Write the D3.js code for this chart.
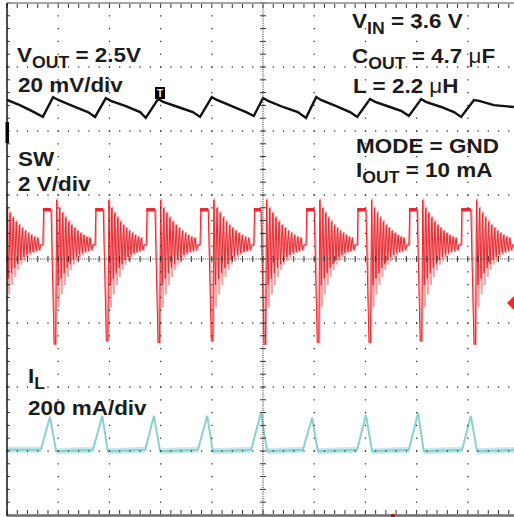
<!DOCTYPE html>
<html>
<head>
<meta charset="utf-8">
<script src="https://cdn.jsdelivr.net/npm/d3@7"></script>
<style>
  body { margin: 0; background: #fff; }
  .lbl { font-family: "Liberation Sans", Arial, sans-serif; font-weight: bold; font-size: 21px; fill: #1c1c1c; }
</style>
</head>
<body>
<script>
const width = 514;
const height = 517;

// SW, 2 V/div : start / end of each high-side pulse (divisions), dip minimum (V)
const swOn  = [-0.33, 0.70, 1.72, 2.72, 3.77, 4.82, 5.84, 6.84, 7.85, 8.87, 9.92];
const swOff = [-0.17, 0.86, 1.88, 2.89, 3.93, 4.96, 6.00, 7.01, 8.01, 9.06, 10.10];
const swDip = [-0.50, -0.60, -0.50, -0.55, -0.50, -0.60, -0.55, -0.55, -0.50, -0.60, -0.50];
const swHigh = 3.6;   // V_IN
const swRest = 2.5;   // V_OUT, where the ringing settles
// ringing after each pulse, one entry per ring cycle (V above / below swRest)
const ringTop      = [1.40, 1.15, 1.00, 0.85, 0.72, 0.62, 0.53, 0.44, 0.37, 0.31, 0.25, 0.22];
const ringBot      = [1.25, 1.05, 0.88, 0.72, 0.60, 0.47, 0.38, 0.31, 0.25, 0.22, 0.19, 0.16];
const ringTopFaint = [1.45, 1.20, 1.05, 0.90, 0.78, 0.66, 0.56, 0.47, 0.40, 0.33, 0.28, 0.24];
const ringBotFaint = [1.95, 1.55, 1.25, 1.00, 0.78, 0.62, 0.50, 0.40, 0.31, 0.25, 0.22, 0.19];

// VOUT, 20 mV/div (AC, mV around 2.5 V)
const voutT  = [0.00,0.25,0.49,0.70, 0.90,1.00,1.29,1.58,1.72, 1.93,2.03,2.32,2.60,2.71, 2.95,3.05,3.34,3.63,3.77,
                4.00,4.10,4.39,4.67,4.82, 5.00,5.10,5.39,5.68,5.84, 6.04,6.13,6.43,6.70,6.84, 7.09,7.19,7.48,7.71,7.85,
                8.09,8.18,8.48,8.73,8.87, 9.12,9.22,9.51,9.90];
const voutMv = [2.2,0.6,-1.3,-3.1, 3.1,2.2,0.3,-1.6,-3.1, 2.8,1.9,0.3,-1.6,-3.4, 2.5,1.6,0.0,-1.6,-3.1,
                3.1,2.2,0.3,-1.6,-2.8, 2.8,1.9,0.0,-1.6,-3.4, 3.1,2.2,0.3,-1.6,-3.1, 2.5,1.6,0.0,-1.3,-2.8,
                2.5,1.6,0.0,-1.6,-3.1, 2.2,1.9,0.6,0.0];

// IL, 200 mA/div
const ilT  = [0, 0.66,0.84,0.96, 1.68,1.86,1.97, 2.70,2.87,2.99, 3.73,3.91,4.02, 4.77,4.96,5.08,
              5.78,5.96,6.07, 6.84,7.01,7.13, 7.85,8.03,8.14, 8.89,9.06,9.18, 10];
const ilMa = [0, 0,103,-5, 0,106,-5, 0,106,-5, 0,106,-5, 0,116,-5,
              0,100,-5, 0,109,-5, 0,116,-5, 0,106,-5, 0];

var svg = d3.select("body").append("svg")
    .attr("width", width)
    .attr("height", height);

// screen: 10 x 8 divisions
var x = d3.scaleLinear().domain([0, 10]).range([7, 519]);
var gy = d3.scaleLinear().domain([-4, 4]).range([515, 3]);

// channel scales (ground position in divisions, units per division)
var ySw = d3.scaleLinear().domain([0, 2]).range([gy(-1.03), gy(-0.03)]);
var yVout = d3.scaleLinear().domain([0, 20]).range([gy(2.375), gy(3.375)]);
var yIl = d3.scaleLinear().domain([0, 200]).range([gy(-2.98), gy(-1.98)]);

svg.append("clipPath").attr("id", "plot")
  .append("rect").attr("x", 7).attr("y", 3).attr("width", 507).attr("height", 512);

var traces = svg.append("g").attr("clip-path", "url(#plot)");

// ---- SW ----
function swPoints(top, bot, shift) {
  var pts = [];
  for (var k = 0; k < swOn.length; k++) {
    var s = swOn[k] + shift, e = swOff[k] + shift;
    pts.push([s, swRest], [s + 0.015, swHigh], [e, swHigh], [e + 0.06, swDip[k]], [e + 0.09, swDip[k]]);
    var r0 = e + 0.11;
    var r1 = (k + 1 < swOn.length ? swOn[k + 1] : 10.6) - 0.04 + shift;
    var dt = (r1 - r0) / top.length;
    top.forEach(function(a, i) {
      pts.push([r0 + i * dt, swRest + a], [r0 + (i + 0.5) * dt, swRest - bot[i]]);
    });
    pts.push([r1, swRest]);
  }
  return pts;
}

var swLine = d3.line().x(d => x(d[0])).y(d => ySw(d[1]));

traces.append("path")
  .attr("d", swLine(swPoints(ringTopFaint, ringBotFaint, 0.012)))
  .attr("fill", "none").attr("stroke", "#f6a3a6").attr("stroke-width", 2);

traces.append("path")
  .attr("d", swLine(swPoints(ringTop, ringBot, 0)))
  .attr("fill", "none").attr("stroke", "#ea2a30").attr("stroke-width", 1);

// thick flat tops of the pulses
traces.selectAll(null).data(swOn).enter().append("line")
  .attr("x1", (d, i) => x(d)).attr("x2", (d, i) => x(swOff[i]))
  .attr("y1", ySw(swHigh)).attr("y2", ySw(swHigh))
  .attr("stroke", "#ea2a30").attr("stroke-width", 3.5);

// ---- VOUT ----
traces.append("path")
  .datum(voutT.map((t, i) => [t, voutMv[i]]))
  .attr("d", d3.line().x(d => x(d[0])).y(d => yVout(d[1])))
  .attr("fill", "none").attr("stroke", "#111").attr("stroke-width", 2.4);

// ---- IL ----
var ilData = ilT.map((t, i) => [t, ilMa[i]]);
traces.append("path")
  .datum(ilData)
  .attr("d", d3.line().defined(d => d[1] <= 0).x(d => x(d[0])).y(d => yIl(d[1])))
  .attr("fill", "none").attr("stroke", "#c6e8e8").attr("stroke-width", 6);
traces.append("path")
  .datum(ilData)
  .attr("d", d3.line().x(d => x(d[0])).y(d => yIl(d[1])))
  .attr("fill", "none").attr("stroke", "#8ad0d0").attr("stroke-width", 2);

// ---- graticule ----
var grid = svg.append("g").attr("fill", "#333");
var minorX = d3.range(0, 10.001, 0.2);
var minorY = d3.range(-4, 4.001, 0.2);

d3.range(1, 10).filter(i => i !== 5).forEach(function(i) {
  grid.selectAll(null).data(minorY).enter().append("rect")
    .attr("x", x(i) - 0.6).attr("y", d => gy(d) - 0.6).attr("width", 1.3).attr("height", 1.3);
});
d3.range(-3, 4).filter(j => j !== 0).forEach(function(j) {
  grid.selectAll(null).data(minorX).enter().append("rect")
    .attr("x", d => x(d) - 0.6).attr("y", gy(j) - 0.6).attr("width", 1.3).attr("height", 1.3);
});

// centre lines
svg.append("line").attr("x1", 7).attr("x2", 514).attr("y1", gy(0)).attr("y2", gy(0))
  .attr("stroke", "#444").attr("stroke-width", 1.2).attr("stroke-dasharray", "1,1.2");
svg.append("line").attr("x1", x(5)).attr("x2", x(5)).attr("y1", 3).attr("y2", 515)
  .attr("stroke", "#444").attr("stroke-width", 1.2).attr("stroke-dasharray", "1,1.2");
grid.selectAll(null).data(minorX).enter().append("rect")
  .attr("x", d => x(d) - 0.5).attr("y", gy(0) - 3).attr("width", 1).attr("height", 6);
grid.selectAll(null).data(minorY).enter().append("rect")
  .attr("x", x(5) - 3).attr("y", d => gy(d) - 0.5).attr("width", 6).attr("height", 1);

// edge ticks
grid.selectAll(null).data(minorX).enter().append("rect")
  .attr("x", d => x(d) - 0.5).attr("y", 4).attr("width", 1).attr("height", 4);
grid.selectAll(null).data(minorX).enter().append("rect")
  .attr("x", d => x(d) - 0.5).attr("y", 510).attr("width", 1).attr("height", 4);
grid.selectAll(null).data(minorY).enter().append("rect")
  .attr("x", 7).attr("y", d => gy(d) - 0.5).attr("width", 3).attr("height", 1);

// frame
svg.append("line").attr("x1", 7).attr("x2", 514).attr("y1", 3).attr("y2", 3)
  .attr("stroke", "#8a8a8a").attr("stroke-width", 1.5);
svg.append("line").attr("x1", 7).attr("x2", 514).attr("y1", 515.5).attr("y2", 515.5)
  .attr("stroke", "#6e6e6e").attr("stroke-width", 2.5);
svg.append("line").attr("x1", 7).attr("x2", 7).attr("y1", 3).attr("y2", 516)
  .attr("stroke", "#111").attr("stroke-width", 1.5);

// markers
svg.append("rect").attr("x", 5.5).attr("y", 122).attr("width", 3.5).attr("height", 21).attr("fill", "#000");
svg.append("path").attr("d", "M507,303L514,296L514,310Z").attr("fill", "#ea2a30");
svg.append("rect").attr("x", 391).attr("y", 514).attr("width", 4).attr("height", 3).attr("fill", "#a01818");
svg.append("rect").attr("x", 155).attr("y", 87).attr("width", 10).attr("height", 12).attr("fill", "#000");
svg.append("text").attr("x", 160).attr("y", 97).attr("text-anchor", "middle")
  .attr("font-family", "Liberation Sans, Arial, sans-serif").attr("font-weight", "bold")
  .attr("font-size", 10).attr("fill", "#fff").text("T");

// ---- labels ----
function label(px, py, parts) {
  var t = svg.append("text").attr("class", "lbl")
    .attr("transform", `translate(${px},${py}) scale(1.07,1)`);
  var shifted = false;
  parts.forEach(function(p) {
    var ts = t.append("tspan").text(p[0]);
    if (p[1] === "sub") { ts.attr("font-size", 16.5).attr("dy", 5.5); shifted = true; }
    else {
      if (shifted) { ts.attr("dy", -5.5); shifted = false; }
      if (p[1] === "mu") ts.attr("font-weight", "normal");
    }
  });
}

label(17, 62, [["V"], ["OUT", "sub"], [" = 2.5V"]]);
label(18, 92, [["20 mV/div"]]);
label(352, 28, [["V"], ["IN", "sub"], [" = 3.6 V"]]);
label(352, 63, [["C"], ["OUT", "sub"], [" = 4.7 "], ["\u03bc", "mu"], ["F"]]);
label(353, 93, [["L = 2.2 "], ["\u03bc", "mu"], ["H"]]);
label(356, 153, [["MODE = GND"]]);
label(356, 177, [["I"], ["OUT", "sub"], [" = 10 mA"]]);
label(18, 166, [["SW"]]);
label(18, 191, [["2 V/div"]]);
label(28, 383, [["I"], ["L", "sub"]]);
label(28, 415, [["200 mA/div"]]);
</script>
</body>
</html>
